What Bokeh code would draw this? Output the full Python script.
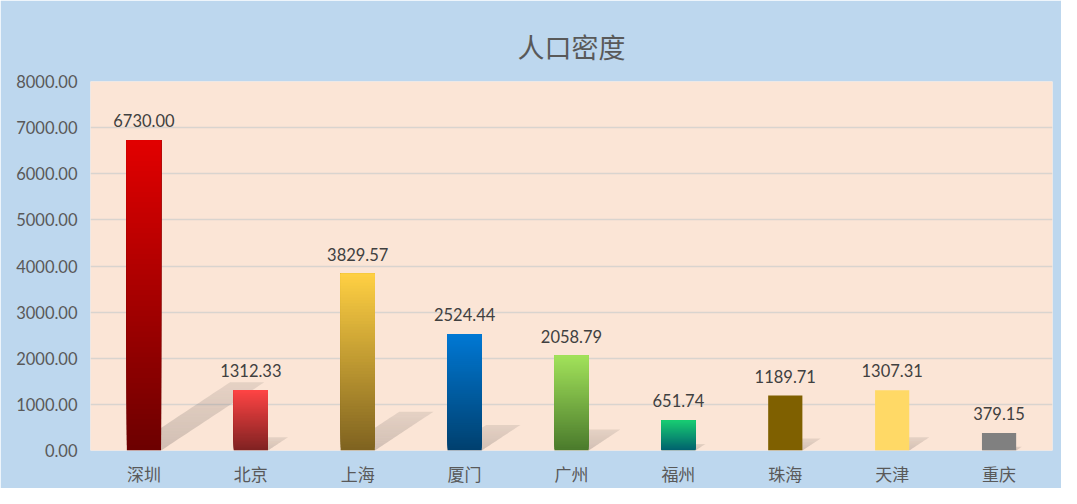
from bokeh.plotting import figure
from bokeh.models import Range1d, FixedTicker, NumeralTickFormatter
from bokeh.embed import file_html
from bokeh.resources import INLINE
from bokeh.core.properties import value

# ---- data ----
title_text = "人口密度"
cities = ["深圳", "北京", "上海", "厦门", "广州", "福州", "珠海", "天津", "重庆"]
density = [6730.00, 1312.33, 3829.57, 2524.44, 2058.79, 651.74, 1189.71, 1307.31, 379.15]
y_ticks = [0, 1000, 2000, 3000, 4000, 5000, 6000, 7000, 8000]

# ---- style ----
top_colors = ["#E20000", "#FF4444", "#FFD043", "#0078D4", "#A2E25A", "#18CC72", "#7F6000", "#FFD966", "#808080"]
bot_colors = ["#6C0000", "#7E2222", "#7E6220", "#00406E", "#4A7A2C", "#00606E", "#7F6000", "#FFD966", "#808080"]

def hex2rgb(h):
    h = h.lstrip("#")
    return tuple(int(h[i:i + 2], 16) for i in (0, 2, 4))

def mix(c1, c2, t):
    a, b = hex2rgb(c1), hex2rgb(c2)
    return "#%02x%02x%02x" % tuple(int(round(a[i] + (b[i] - a[i]) * t)) for i in range(3))

W, H = 1061, 488
p = figure(width=W, height=H, output_backend="svg", toolbar_location=None,
           x_range=Range1d(0, len(cities)), y_range=Range1d(0, 8000),
           min_border_left=90, min_border_right=9, min_border_top=81, min_border_bottom=33)
p.border_fill_color = "#BDD7EE"
p.background_fill_color = "#FBE5D6"
p.outline_line_color = None

p.title.text = title_text
p.title.align = "center"
p.title.vertical_align = "top"
p.title.standoff = 27
p.title.text_font = "Noto Sans CJK SC"
p.title.text_font_size = "27px"
p.title.text_font_style = "normal"
p.title.text_color = "#595959"

xs = [i + 0.5 for i in range(len(cities))]
bw = 0.32

# shadows (perspective, cast to upper right)
px_per_x = 962 / len(cities)
px_per_y = 372 / 8000
for i, v in enumerate(density):
    hpx = v * px_per_y
    dx = 0.33 * hpx / px_per_x
    dy = 0.22 * v
    n = 24
    for k in range(n):
        t0, t1 = k / n, (k + 1) / n
        l = xs[i] - bw / 2
        r = xs[i] + bw / 2
        xsP = [l + dx * t0, r + dx * t0, r + dx * t1, l + dx * t1]
        ysP = [dy * t0, dy * t0, dy * t1, dy * t1]
        a = 0.26 * (1 - 0.5 * t0)
        p.patch(xsP, ysP, fill_color="#5a5452", fill_alpha=a, line_color=None)

# gradient bars (each slice runs to the bar top, later slices cover earlier ones)
N = 60
for i, v in enumerate(density):
    n = N if top_colors[i] != bot_colors[i] else 1
    bottoms = [v * k / n for k in range(n)]
    tops = [v] * n
    cols = [mix(bot_colors[i], top_colors[i], (k + 0.5) / n) for k in range(n)]
    p.quad(left=xs[i] - bw / 2, right=xs[i] + bw / 2, bottom=bottoms, top=tops,
           fill_color=cols, line_color=None)

# data labels
p.text(x=xs, y=density, text=["%.2f" % v for v in density], text_align="center",
       text_baseline="bottom", y_offset=-13, text_font=value("Lato"),
       text_font_size="16.5px", text_color="#404040")

p.xaxis.ticker = FixedTicker(ticks=xs)
p.xaxis.major_label_overrides = {x: c for x, c in zip(xs, cities)}
p.xaxis.major_label_text_font = "Noto Sans CJK SC"
p.xaxis.major_label_text_font_size = "17px"
p.xaxis.major_label_text_color = "#595959"
p.xaxis.major_label_standoff = 10
p.xaxis.major_tick_out = 0
p.xaxis.major_tick_in = 0
p.xaxis.minor_tick_out = 0
p.xaxis.axis_line_color = None
p.xaxis.major_tick_line_color = None
p.xaxis.minor_tick_line_color = None

p.yaxis.ticker = FixedTicker(ticks=y_ticks)
p.yaxis.formatter = NumeralTickFormatter(format="0.00")
p.yaxis.major_label_text_font = "Lato"
p.yaxis.major_label_text_font_size = "16.5px"
p.yaxis.major_label_text_color = "#595959"
p.yaxis.major_label_standoff = 13
p.yaxis.major_tick_out = 0
p.yaxis.major_tick_in = 0
p.yaxis.minor_tick_out = 0
p.yaxis.axis_line_color = None
p.yaxis.major_tick_line_color = None
p.yaxis.minor_tick_line_color = None

p.xgrid.grid_line_color = None
p.ygrid.ticker = FixedTicker(ticks=y_ticks)
p.ygrid.grid_line_color = "#D9D4CF"
p.ygrid.grid_line_width = 1.5

open("out.html", "w").write(file_html(p, INLINE))
